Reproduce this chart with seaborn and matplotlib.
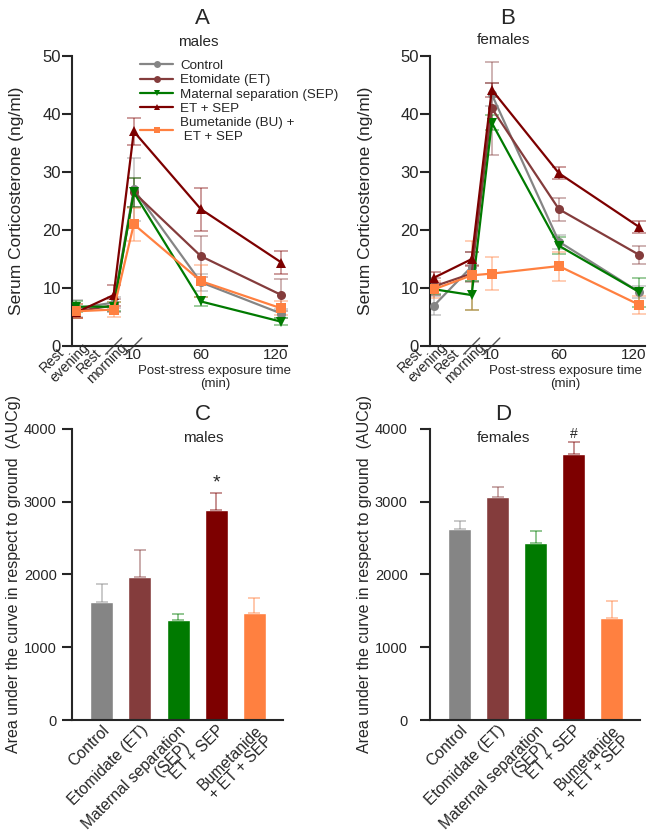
import numpy as np
import pandas as pd
import matplotlib
matplotlib.use("Agg")
import matplotlib.pyplot as plt
import matplotlib.transforms as mtransforms
import seaborn as sns

# groups, colours and markers
groups = ["Control", "Etomidate (ET)", "Maternal separation (SEP)", "ET + SEP",
          "Bumetanide (BU) +\n ET + SEP"]
colors = ["#858585", "#843c3c", "#007a00", "#7d0000", "#ff8040"]
markers = ["o", "o", "v", "^", "s"]

# time points (x position in minutes, rest samples placed before the break)
time_pos = [-33, -5, 10, 60, 120]
time_labels = ["Rest\nevening", "Rest\nmorning", "10", "60", "120"]

# serum corticosterone (ng/ml), males
males_mean = {
    "Control": [6.5, 7.5, 27.0, 11.0, 5.6],
    "Etomidate (ET)": [6.0, 7.0, 26.5, 15.5, 8.8],
    "Maternal separation (SEP)": [6.8, 6.8, 26.5, 7.7, 4.2],
    "ET + SEP": [5.8, 8.8, 37.0, 23.6, 14.4],
    "Bumetanide (BU) +\n ET + SEP": [6.0, 6.3, 21.0, 11.2, 6.5],
}
males_sem = {
    "Control": [1.5, 1.0, 5.5, 1.5, 0.8],
    "Etomidate (ET)": [1.2, 1.2, 2.5, 3.5, 2.8],
    "Maternal separation (SEP)": [1.0, 0.8, 2.5, 0.8, 0.6],
    "ET + SEP": [1.0, 1.8, 2.4, 3.7, 2.0],
    "Bumetanide (BU) +\n ET + SEP": [1.2, 1.3, 2.8, 2.8, 1.2],
}

# serum corticosterone (ng/ml), females
females_mean = {
    "Control": [7.0, 13.7, 43.4, 18.0, 9.3],
    "Etomidate (ET)": [10.3, 12.5, 41.0, 23.6, 15.7],
    "Maternal separation (SEP)": [9.8, 8.8, 38.5, 17.3, 9.3],
    "ET + SEP": [11.8, 15.0, 44.2, 29.8, 20.5],
    "Bumetanide (BU) +\n ET + SEP": [9.8, 12.2, 12.5, 13.8, 7.1],
}
females_sem = {
    "Control": [1.7, 2.5, 2.0, 1.2, 1.0],
    "Etomidate (ET)": [1.5, 1.5, 8.0, 2.0, 1.5],
    "Maternal separation (SEP)": [0.8, 2.5, 1.3, 1.5, 2.5],
    "ET + SEP": [1.0, 1.2, 1.2, 1.0, 1.0],
    "Bumetanide (BU) +\n ET + SEP": [1.5, 6.0, 2.8, 2.5, 1.5],
}

# area under the curve (AUCg)
bar_labels = ["Control", "Etomidate (ET)", "Maternal separation\n(SEP)  ", "ET + SEP",
              "Bumetanide\n+ ET + SEP"]
auc_males = [1620, 1970, 1380, 2890, 1470]
auc_males_err = [250, 370, 70, 230, 210]
auc_females = [2620, 3060, 2430, 3650, 1400]
auc_females_err = [120, 140, 160, 170, 240]

sns.set_style("ticks")
plt.rcParams["font.family"] = ["Liberation Sans", "DejaVu Sans"]
plt.rcParams["axes.linewidth"] = 1.5

fig = plt.figure(figsize=(6.49, 8.32), dpi=100)


def shift(label, dx, dy):
    # move a tick label by a few pixels
    off = mtransforms.ScaledTranslation(dx / 100, dy / 100, fig.dpi_scale_trans)
    label.set_transform(label.get_transform() + off)


def style_axes(ax, size, pad):
    sns.despine(ax=ax)
    ax.tick_params(axis="y", length=7, width=1.5, labelsize=size, pad=pad)


def line_panel(ax, means, sems, letter, sex, title_x, sex_x, sex_y, ylabpad, xlab_x):
    rows = []
    for g in groups:
        for t, m in zip(time_pos, means[g]):
            rows.append({"group": g, "time": t, "value": m})
    df = pd.DataFrame(rows)

    sns.lineplot(data=df, x="time", y="value", hue="group", style="group",
                 hue_order=groups, style_order=groups, palette=colors,
                 markers=markers, dashes=False, markersize=6.5,
                 markeredgewidth=0, linewidth=1.6, ax=ax, legend=False, zorder=3)

    # error bars (mean +/- sem)
    for g, c in zip(groups, colors):
        ax.errorbar(time_pos, means[g], yerr=sems[g], fmt="none", ecolor=c,
                    alpha=0.45, elinewidth=1.2, capsize=5, capthick=1.2, zorder=2)

    ax.set_xlim(-36, 124)
    ax.set_ylim(0, 50)
    ax.set_yticks(range(0, 51, 10))
    ax.set_ylabel("Serum Corticosterone (ng/ml)", fontsize=12.5, labelpad=ylabpad)
    style_axes(ax, 12, 1)

    ax.set_xticks(time_pos)
    ax.set_xticklabels(time_labels)
    ax.tick_params(axis="x", length=0, labelsize=11, pad=1)
    for lab in ax.get_xticklabels()[:2]:
        lab.set_rotation(45)
        lab.set_ha("right")
        lab.set_va("top")
        lab.set_rotation_mode("anchor")
        lab.set_fontsize(10)
        lab.set_multialignment("left")
        lab.set_linespacing(1.0)
        shift(lab, -4, 17)
    shift(ax.get_xticklabels()[4], -6, 0)
    ax.set_xlabel("Post-stress exposure time\n(min)", fontsize=9.5, linespacing=1.15)
    ax.xaxis.set_label_coords(xlab_x, -0.064, transform=ax.transAxes)
    ax.xaxis.label.set_va("top")

    # axis break marks
    for xb in time_pos[1:3]:
        ax.plot([xb - 6, xb + 6], [-0.028, 0.028], color="#555555", lw=1.0,
                transform=ax.get_xaxis_transform(), clip_on=False)

    ax.text(title_x, 1.131, letter, transform=ax.transAxes, ha="center", va="center",
            fontsize=16)
    ax.text(sex_x, sex_y, sex, transform=ax.transAxes, ha="center", va="center",
            fontsize=11)


def bar_panel(ax, values, errs, letter, sex, mark, mark_size, title_x, tickpad):
    df = pd.DataFrame({"group": bar_labels, "value": values})
    sns.barplot(data=df, x="group", y="value", hue="group", palette=colors,
                order=bar_labels, width=0.6, legend=False, ax=ax, saturation=1)
    x = np.arange(len(values))
    for xi, v, e, c in zip(x, values, errs, colors):
        ax.errorbar(xi, v, yerr=[[0], [e]], fmt="none", ecolor=c, alpha=0.5,
                    elinewidth=1.2, capsize=4.5, capthick=1.2)
    ax.set_ylim(0, 4000)
    ax.set_yticks(range(0, 4001, 1000))
    ax.set_xlim(-0.78, 4.75)
    ax.set_xlabel("")
    ax.set_ylabel("Area under the curve in respect to ground  (AUCg)",
                  fontsize=11.5, labelpad=2)
    style_axes(ax, 10.5, tickpad)
    ax.tick_params(axis="x", length=0, labelsize=11.3, pad=2)
    for lab in ax.get_xticklabels():
        lab.set_rotation(45)
        lab.set_ha("right")
        lab.set_rotation_mode("anchor")
        lab.set_multialignment("right")
        lab.set_linespacing(0.95)
    ax.text(3, values[3] + errs[3] + 15, mark, ha="center", va="bottom",
            fontsize=mark_size)
    ax.text(title_x, 1.048, letter, transform=ax.transAxes, ha="center", va="center",
            fontsize=16)
    ax.text(title_x, 0.969, sex, transform=ax.transAxes, ha="center", va="center",
            fontsize=11)


ax_a = fig.add_axes([0.111, 0.584, 0.331, 0.3486])
ax_b = fig.add_axes([0.6626, 0.584, 0.331, 0.3486])
ax_c = fig.add_axes([0.111, 0.1346, 0.325, 0.35])
ax_d = fig.add_axes([0.6626, 0.1346, 0.3236, 0.35])

line_panel(ax_a, males_mean, males_sem, "A", "males", 0.605, 0.59, 1.048, 13, 0.665)
line_panel(ax_b, females_mean, females_sem, "B", "females", 0.363, 0.34, 1.055, 20, 0.63)
bar_panel(ax_c, auc_males, auc_males_err, "C", "males", "*", 14, 0.62, 4)
bar_panel(ax_d, auc_females, auc_females_err, "D", "females", "#", 10, 0.35, 9)

# legend for the time course panels
handles = [plt.Line2D([], [], color=c, marker=m, markersize=5, lw=1.6,
                      markeredgewidth=0) for c, m in zip(colors, markers)]
ax_a.legend(handles, groups, loc="upper left", bbox_to_anchor=(0.316, 0.988),
            frameon=False, fontsize=9.6, handlelength=2.5, handletextpad=0.5,
            labelspacing=0.15, borderaxespad=0, borderpad=0)

fig.savefig("out.png", dpi=100)
